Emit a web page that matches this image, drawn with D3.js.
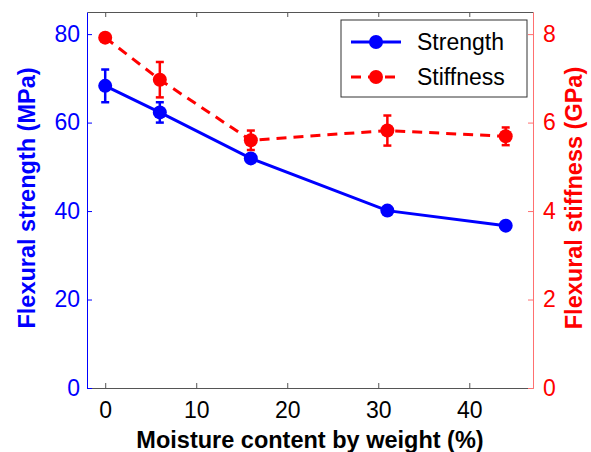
<!DOCTYPE html>
<html>
<head>
<meta charset="utf-8">
<script src="https://cdn.jsdelivr.net/npm/d3@7"></script>
<style>
  body { margin: 0; background: #fff; }
  svg { font-family: "Liberation Sans", Arial, sans-serif; }
</style>
</head>
<body>
<div id="chart"></div>
<script>
// data
const moisture = [0, 6, 16, 31, 44];
const strength = [68.3, 62.3, 51.9, 40.1, 36.7];
const strengthErr = [3.7, 2.3, 0.8, 0.8, 0.5];
const stiffness = [7.92, 6.97, 5.6, 5.82, 5.69];
const stiffnessErr = [0.08, 0.4, 0.22, 0.34, 0.2];
const xTicks = [0, 10, 20, 30, 40];
const leftTicks = [0, 20, 40, 60, 80];
const rightTicks = [0, 2, 4, 6, 8];
const seriesNames = ["Strength", "Stiffness"];

const W = 591, H = 452;
const margin = {top: 12, right: 58, bottom: 64, left: 87};
const blue = "#0000ff", red = "#ff0000";

const svg = d3.select("#chart").append("svg")
  .attr("width", W).attr("height", H);

const iw = W - margin.left - margin.right,
  ih = H - margin.top - margin.bottom;

const g = svg.append("g")
  .attr("transform", "translate(" + margin.left + "," + margin.top + ")");

const x = d3.scaleLinear().domain([-2, 47]).range([0, iw]);
const yL = d3.scaleLinear().domain([0, 85]).range([ih, 0]);
const yR = d3.scaleLinear().domain([0, 8.5]).range([ih, 0]);

// axes - ticks point inward
const tl = 5, fs = "23px";
const bottomAxis = g.append("g").attr("transform", "translate(0," + ih + ")")
  .call(d3.axisBottom(x).tickValues(xTicks).tickSizeInner(-tl).tickSizeOuter(0).tickPadding(14));
const topAxis = g.append("g")
  .call(d3.axisTop(x).tickValues(xTicks).tickSizeInner(-tl).tickSizeOuter(0).tickFormat(""));
const leftAxis = g.append("g")
  .call(d3.axisLeft(yL).tickValues(leftTicks).tickSizeInner(-tl).tickSizeOuter(0).tickPadding(7));
const rightAxis = g.append("g").attr("transform", "translate(" + iw + ",0)")
  .call(d3.axisRight(yR).tickValues(rightTicks).tickSizeInner(-tl).tickSizeOuter(0).tickPadding(10));

[bottomAxis, topAxis].forEach(a => {
  a.selectAll("path,line").attr("stroke", "#555").attr("stroke-width", 1);
  a.selectAll("text").attr("fill", "#000").style("font-size", fs);
});
leftAxis.selectAll("path,line").attr("stroke", blue).attr("stroke-width", 1);
leftAxis.selectAll("text").attr("fill", blue).style("font-size", fs);
rightAxis.selectAll("path,line").attr("stroke", "#ff7070").attr("stroke-width", 1);
rightAxis.selectAll("text").attr("fill", red).style("font-size", fs);

// series
const seriesA = moisture.map((m, i) => ({x: m, y: strength[i], e: strengthErr[i]}));
const seriesB = moisture.map((m, i) => ({x: m, y: stiffness[i], e: stiffnessErr[i]}));

function drawSeries(data, yS, color, dash) {
  const line = d3.line().x(d => x(d.x)).y(d => yS(d.y));
  g.append("path").datum(data)
    .attr("d", line)
    .attr("fill", "none")
    .attr("stroke", color)
    .attr("stroke-width", 3)
    .attr("stroke-dasharray", dash);
  const eb = g.append("g").selectAll("g").data(data).enter().append("g")
    .attr("stroke", color).attr("stroke-width", 2.5);
  eb.append("line")
    .attr("x1", d => x(d.x)).attr("x2", d => x(d.x))
    .attr("y1", d => yS(d.y - d.e)).attr("y2", d => yS(d.y + d.e));
  [-1, 1].forEach(s => {
    eb.append("line")
      .attr("x1", d => x(d.x) - 4).attr("x2", d => x(d.x) + 4)
      .attr("y1", d => yS(d.y + s * d.e)).attr("y2", d => yS(d.y + s * d.e));
  });
  g.append("g").selectAll("circle").data(data).enter().append("circle")
    .attr("cx", d => x(d.x)).attr("cy", d => yS(d.y))
    .attr("r", 7).attr("fill", color);
}
drawSeries(seriesB, yR, red, "10,7");
drawSeries(seriesA, yL, blue, null);

// legend
const lg = svg.append("g").attr("transform", "translate(341,20)");
lg.append("rect").attr("width", 186).attr("height", 77)
  .attr("fill", "#fff").attr("stroke", "#333").attr("stroke-width", 1);
[[blue, null], [red, "10,7"]].forEach((c, i) => {
  const yy = 22 + i * 35;
  lg.append("line").attr("x1", 10).attr("x2", 60).attr("y1", yy).attr("y2", yy)
    .attr("stroke", c[0]).attr("stroke-width", 3).attr("stroke-dasharray", c[1]);
  lg.append("circle").attr("cx", 35).attr("cy", yy).attr("r", 7).attr("fill", c[0]);
  lg.append("text").attr("x", 76).attr("y", yy).attr("dy", "0.35em")
    .style("font-size", fs).attr("fill", "#000").text(seriesNames[i]);
});

// axis titles
svg.append("text")
  .attr("transform", "translate(35,198) rotate(-90)")
  .attr("text-anchor", "middle").attr("fill", blue)
  .style("font-size", "23.5px").style("font-weight", "bold")
  .text("Flexural strength (MPa)");
svg.append("text")
  .attr("transform", "translate(582,198) rotate(-90)")
  .attr("text-anchor", "middle").attr("fill", red)
  .style("font-size", "23.5px").style("font-weight", "bold")
  .text("Flexural stiffness (GPa)");
svg.append("text")
  .attr("x", 310).attr("y", 448)
  .attr("text-anchor", "middle").attr("fill", "#000")
  .style("font-size", "23.5px").style("font-weight", "bold")
  .text("Moisture content by weight (%)");
</script>
</body>
</html>
